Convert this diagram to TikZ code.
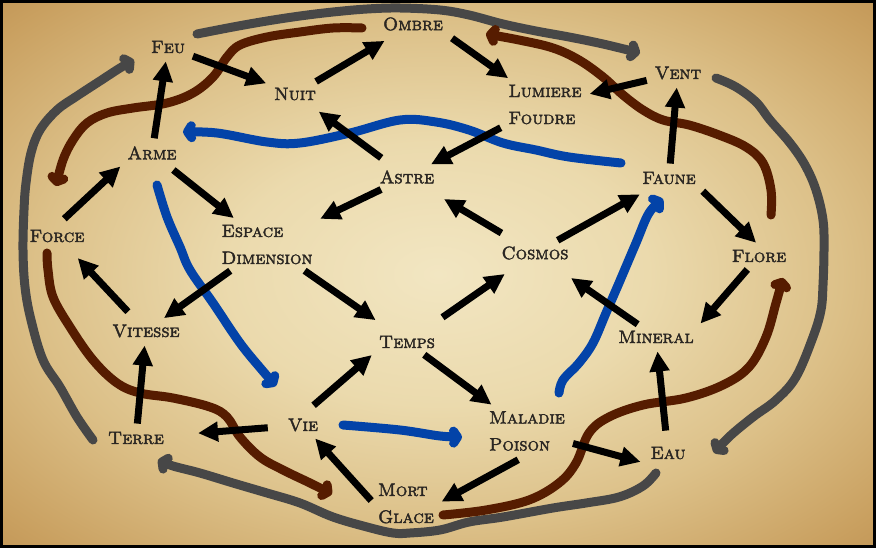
\documentclass[tikz,border=0pt]{standalone}
\usepackage{fontspec}
\usepackage{tikz}
\usetikzlibrary{
    arrows.meta, calc, positioning
}
\newfontfamily\capsFont{lmromancaps10-regular.otf}[FakeBold=2.2]
\definecolor{inkDark}{HTML}{2A2622}
\definecolor{loopGray}{HTML}{474747}
\definecolor{loopBrown}{HTML}{561C00}
\definecolor{loopBlue}{HTML}{0343A8}
\definecolor{parchA}{HTML}{F2E6C2}
\definecolor{parchB}{HTML}{EBDAAD}
\definecolor{parchC}{HTML}{DCC088}
\definecolor{parchD}{HTML}{C9A060}
\definecolor{parchE}{HTML}{B38243}
\definecolor{parchF}{HTML}{9C6733}
\definecolor{parchG}{HTML}{6A421E}
\pgfdeclareradialshading{parchment}{\pgfpoint{0bp}{0bp}}{%
    color(0bp)=(parchA); color(12bp)=(parchB); color(23bp)=(parchC);
    color(33bp)=(parchD); color(42bp)=(parchE); color(51bp)=(parchF); color(71bp)=(parchG)}

\begin{document}
\begin{tikzpicture}[x=1pt, y=-1pt,
    word/.style={text=inkDark, font=\capsFont\fontsize{18}{27}\selectfont, inner sep=4pt, align=left},
    blackArrow/.style={line width=7pt, -{Triangle[length=20pt,width=19pt]}, shorten <=4pt, shorten >=4pt},
    cycleLine/.style={line width=9pt, line cap=round, line join=round, -{Straight Barb[length=4pt,width=12pt,round]}}
]
        \useasboundingbox (0,0) rectangle (876,548);

        % Parchment
        \shade[shading=parchment] (0,0) rectangle (876,548);

        % Words
        \node[word] (feu) at (168,47) {Feu};
        \node[word] (ombre) at (413,24) {Ombre};
        \node[word] (nuit) at (295,94) {Nuit};
        \node[word] (lumFoudre) at (545,104.5) {Lumiere\\Foudre};
        \node[word] (vent) at (678,73) {Vent};
        \node[word] (arme) at (152,153) {Arme};
        \node[word] (astre) at (407,177) {Astre};
        \node[word] (faune) at (669,178) {Faune};
        \node[word] (force) at (57,236) {Force};
        \node[word] (espDim) at (267,244.5) {Espace\\Dimension};
        \node[word] (cosmos) at (535,253) {Cosmos};
        \node[word] (flore) at (759,256) {Flore};
        \node[word] (vitesse) at (146,331) {Vitesse};
        \node[word] (temps) at (407,342) {Temps};
        \node[word] (mineral) at (656,337) {Mineral};
        \node[word] (vie) at (303,425) {Vie};
        \node[word] (terre) at (136,438) {Terre};
        \node[word] (malPoison) at (527,431) {Maladie\\Poison};
        \node[word] (eau) at (668,453) {Eau};
        \node[word] (mortGlace) at (406,503.5) {Mort\\Glace};

        % Gray cycle
        \draw[cycleLine, loopGray] plot[smooth, tension=0.6] coordinates {(197,34) (233,27) (267,21) (300,16) (333,12) (367,9) (400,8) (440,10) (469,15) (503,24) (536,31) (569,37) (603,44) (640,53)};
        \draw[cycleLine, loopGray] plot[smooth, tension=0.6] coordinates {(716,78) (736,87) (756,102) (770,120) (790,143) (805,165) (816,190) (823,220) (824,250) (823,285) (821,310) (813,337) (796,377) (776,400) (753,417) (730,436) (714,453)};
        \draw[cycleLine, loopGray] plot[smooth, tension=0.6] coordinates {(656,473) (643,486) (619,497) (586,503) (553,508) (503,517) (469,522) (440,530) (410,533) (393,533) (367,527) (333,517) (300,503) (267,493) (233,483) (200,473) (173,466) (158,460)};
        \draw[cycleLine, loopGray] plot[smooth, tension=0.6] coordinates {(93,440) (77,417) (60,387) (43,360) (31,320) (25,287) (23,250) (24,210) (26,183) (31,153) (40,130) (57,110) (77,96) (100,81) (120,68) (134,60)};

        % Brown cycle
        \draw[cycleLine, loopBrown] plot[smooth, tension=0.6] coordinates {(362,28) (333,28) (300,32) (267,37) (240,45) (227,57) (213,77) (193,93) (167,103) (133,108) (107,113) (87,123) (73,140) (63,160) (56,186)};
        \draw[cycleLine, loopBrown] plot[smooth, tension=0.6] coordinates {(47,253) (48,270) (53,297) (70,327) (93,360) (117,383) (140,393) (173,398) (210,407) (227,417) (240,437) (260,457) (283,470) (310,483) (332,494)};
        \draw[cycleLine, loopBrown] plot[smooth, tension=0.6] coordinates {(443,515) (486,510) (529,500) (559,483) (576,463) (589,433) (609,417) (643,405) (686,398) (723,385) (749,367) (766,337) (776,303) (783,278)};
        \draw[cycleLine, loopBrown] plot[smooth, tension=0.6] coordinates {(771,215) (771,190) (763,163) (746,147) (719,135) (689,125) (663,120) (643,110) (623,95) (603,77) (579,60) (553,48) (519,40) (486,34)};

        % Blue cycle
        \draw[cycleLine, loopBlue] plot[smooth, tension=0.6] coordinates {(621,163) (569,157) (536,150) (503,143) (469,130) (436,122) (400,120) (350,133) (300,143) (267,142) (217,133) (183,132)};
        \draw[cycleLine, loopBlue] plot[smooth, tension=0.6] coordinates {(157,185) (167,217) (180,247) (190,270) (213,303) (240,343) (262,370) (276,386)};
        \draw[cycleLine, loopBlue] plot[smooth, tension=0.6] coordinates {(343,425) (400,430) (440,436) (462,437)};
        \draw[cycleLine, loopBlue] plot[smooth, tension=0.6] coordinates {(559,393) (563,380) (579,363) (593,343) (606,313) (619,283) (636,243) (649,213) (663,199)};

        % Black arrows
        \draw[blackArrow] (arme) -- (feu);
        \draw[blackArrow] (feu) -- (nuit);
        \draw[blackArrow, shorten >=12pt] (nuit) -- (ombre);
        \draw[blackArrow, shorten <=14pt, shorten >=12pt] (astre) -- (nuit);
        \draw[blackArrow] (astre) -- (espDim);
        \draw[blackArrow, shorten <=10pt] (arme) -- (espDim);
        \draw[blackArrow, shorten <=10pt] (force.north) -- (arme.south west);
        \draw[blackArrow, shorten <=6pt] (ombre.south east) -- (lumFoudre);
        \draw[blackArrow] (vent) -- (lumFoudre);
        \draw[blackArrow] (lumFoudre) -- (astre);
        \draw[blackArrow, shorten <=18pt, shorten >=22pt] (cosmos) -- (astre);
        \draw[blackArrow, shorten >=12pt] (cosmos) -- (faune);
        \draw[blackArrow] (faune) -- (vent);
        \draw[blackArrow] (faune.south east) -- (flore.north);
        \draw[blackArrow, shorten <=12pt, shorten >=16pt] (vitesse) -- (force);
        \draw[blackArrow] (espDim) -- (vitesse);
        \draw[blackArrow, shorten >=20pt] (espDim) -- (temps);
        \draw[blackArrow] (terre) -- (vitesse);
        \draw[blackArrow, shorten <=14pt] (vie.north) -- (temps.south west);
        \draw[blackArrow, shorten <=16pt, shorten >=30pt] (vie) -- (terre);
        \draw[blackArrow] (mortGlace.west) -- (vie);
        \draw[blackArrow] (temps) -- (malPoison);
        \draw[blackArrow, shorten <=25pt, shorten >=18pt] (temps) -- (cosmos);
        \draw[blackArrow, shorten >=25pt] (mineral) -- (cosmos);
        \draw[blackArrow] (flore) -- (mineral.north east);
        \draw[blackArrow, shorten <=12pt] (eau) -- (mineral);
        \draw[blackArrow, shorten >=6pt] (malPoison) -- (eau.south west);
        \draw[blackArrow, shorten <=10pt] (malPoison.south) -- (mortGlace.east);

        % Frame
        \draw[black, line width=3pt] (1.5,1.5) rectangle (874.5,546.5);
    \end{tikzpicture}
\end{document}
